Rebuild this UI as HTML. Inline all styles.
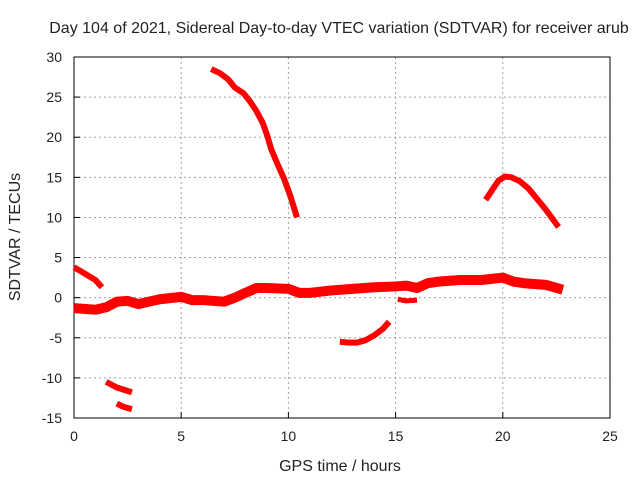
<!DOCTYPE html>
<html><head><meta charset="utf-8"><style>
body{margin:0;background:#fff}
svg text{font-family:"Liberation Sans",sans-serif;font-size:14px;fill:#222}
svg text.big{font-size:16px}
</style></head><body>
<svg width="640" height="480">
<text class="big" x="339" y="33" text-anchor="middle">Day 104 of 2021, Sidereal Day-to-day VTEC variation (SDTVAR) for receiver arub</text>
<g id="grid"></g>
<g id="axes"></g>
<g id="series"></g>
<text class="big" x="340" y="471" text-anchor="middle">GPS time / hours</text>
<text class="big" transform="translate(20,237) rotate(-90)" text-anchor="middle">SDTVAR / TECUs</text>
</svg>
<script>
const xTicks=[0,5,10,15,20,25];
const yTicks=[-15,-10,-5,0,5,10,15,20,25,30];
const mainT=[0,1,1.5,2,2.5,3,3.5,4,5,5.5,6,7,7.5,8,8.5,9,10,10.5,11,12,13,14,15,15.5,16,16.5,17,18,19,20,20.5,21,22,22.8];
const mainV=[-1.3,-1.5,-1.2,-0.5,-0.4,-0.8,-0.5,-0.2,0.1,-0.3,-0.3,-0.5,0,0.6,1.2,1.2,1.1,0.6,0.6,0.9,1.1,1.3,1.4,1.5,1.2,1.8,2.0,2.2,2.2,2.5,2.0,1.8,1.6,1.0];
const s2T=[0,0.5,1,1.3], s2V=[3.8,3.0,2.2,1.3];
const s3T=[1.5,2,2.7], s3V=[-10.5,-11.2,-11.8];
const s4T=[2,2.3,2.7], s4V=[-13.2,-13.6,-13.9];
const s5T=[6.4,6.8,7.2,7.5,7.9,8.2,8.5,8.8,9.0,9.2,9.5,9.8,10.1,10.4], s5V=[28.5,28,27.2,26.2,25.5,24.5,23.3,21.8,20.3,18.5,16.6,14.8,12.6,10];
const s6T=[12.4,12.8,13.2,13.6,14,14.4,14.7], s6V=[-5.5,-5.6,-5.6,-5.3,-4.7,-3.9,-3];
const s7T=[15.1,15.5,16], s7V=[-0.2,-0.4,-0.3];
const s8T=[19.2,19.5,19.8,20.1,20.4,20.8,21.2,21.6,22,22.3,22.6], s8V=[12.2,13.4,14.6,15.1,15,14.5,13.6,12.3,11,9.9,8.8];
const X0=74,X1=610,Y0=418,Y1=57;
const sx=t=>X0+(t-0)/25*(X1-X0);
const sy=v=>Y0-(v+15)/45*(Y0-Y1);
const NS='http://www.w3.org/2000/svg';
const grid=document.getElementById('grid'),axes=document.getElementById('axes'),ser=document.getElementById('series');
function mk(tag,at,parent){const e=document.createElementNS(NS,tag);for(const k in at)e.setAttribute(k,at[k]);parent.appendChild(e);return e;}
xTicks.forEach(t=>{
  if(t>0&&t<25){const l=mk('line',{x1:sx(t),x2:sx(t),y1:Y1,y2:Y0,stroke:'#a0a0a0','stroke-dasharray':'2,3'},grid);
  
  }
  const tk=mk('line',{x1:sx(t),x2:sx(t),y1:Y0,y2:Y0-6,stroke:'#000'},axes);
  
  
  const tx=mk('text',{x:sx(t),y:Y0+23,'text-anchor':'middle'},axes);tx.textContent=t;
  
  
});
yTicks.forEach(v=>{
  if(v>-15&&v<30){const l=mk('line',{x1:X0,x2:X1,y1:sy(v),y2:sy(v),stroke:'#a0a0a0','stroke-dasharray':'2,3'},grid);
  
  }
  const tk=mk('line',{x1:X0,x2:X0+6,y1:sy(v),y2:sy(v),stroke:'#000'},axes);
  
  
  const tx=mk('text',{x:X0-12,y:sy(v)+5,'text-anchor':'end'},axes);tx.textContent=v;
  
  
});
const fr=mk('rect',{x:X0,y:Y1,width:X1-X0,height:Y0-Y1,fill:'none',stroke:'#000'},axes);


function line(T,V,w,name){
  const pts=T.map((t,i)=>sx(t)+','+sy(V[i])).join(' ');
  const p=mk('polyline',{points:pts,fill:'none',stroke:'#ff0000','stroke-width':w,'stroke-linejoin':'round','stroke-linecap':'butt'},ser);
  
  
}
line(mainT,mainV,10,'series-main-band');
line(s2T,s2V,6,'series-early-decline');
line(s3T,s3V,6,'series-low-segment-a');
line(s4T,s4V,6,'series-low-segment-b');
line(s5T,s5V,6,'series-high-descent');
line(s6T,s6V,6,'series-negative-arc');
line(s7T,s7V,5,'series-small-dip');
line(s8T,s8V,6,'series-evening-arc');
</script>
</body></html>
